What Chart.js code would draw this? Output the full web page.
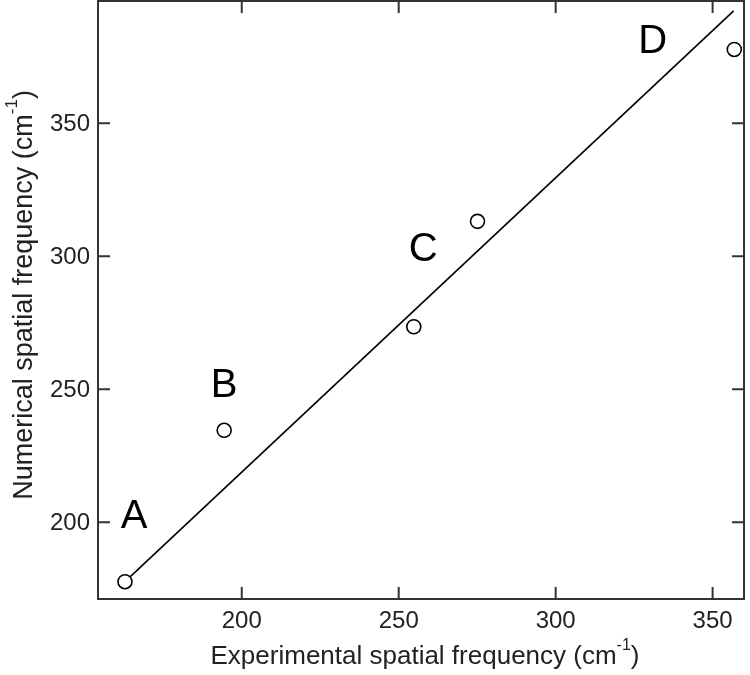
<!DOCTYPE html>
<html lang="en">
<head>
  <meta charset="UTF-8">
  <title>Numerical vs experimental spatial frequency</title>
  <style>
    body{margin:0;padding:0;background:#fff;}
    #wrap{width:750px;height:675px;}
  </style>
  <script src="https://cdn.jsdelivr.net/npm/chart.js"></script>
</head>
<body>
  <div id="wrap"><canvas id="chart" width="750" height="675"></canvas></div>

<script>
/* ===== Data ===== */
const expFreq = [162.8, 194.4, 254.8, 275.1, 356.9];   // experimental (cm^-1)
const numFreq = [177.7, 234.6, 273.5, 313.1, 377.7];   // numerical (cm^-1)
const fitX = [162.8, 356.7];                           // fitted line ends
const fitY = [177.7, 392.2];
const tagText = ["A", "B", "C", "D"];
const tagX = [165.7, 194.4, 257.8, 330.9];
const tagY = [202, 251.1, 302.5, 380.5];
const xTicks = [200, 250, 300, 350];
const yTicks = [200, 250, 300, 350];

const FONT = '"Liberation Sans", Arial, sans-serif';
const INK = '#222';
const AXIS = '#333';

/* ===== Frame, inward ticks, letters, titles ===== */
const decor = {
  id: 'decor',
  afterDatasetsDraw(chart){
    const {ctx, chartArea:a, scales:{x, y}} = chart;
    ctx.save();
    ctx.strokeStyle = AXIS; ctx.lineWidth = 2;
    ctx.strokeRect(a.left, a.top, a.right - a.left, a.bottom - a.top);
    const tl = 12;
    ctx.beginPath();
    xTicks.forEach(v => {
      const px = x.getPixelForValue(v);
      ctx.moveTo(px, a.bottom); ctx.lineTo(px, a.bottom - tl);
      ctx.moveTo(px, a.top); ctx.lineTo(px, a.top + tl);
    });
    yTicks.forEach(v => {
      const py = y.getPixelForValue(v);
      ctx.moveTo(a.left, py); ctx.lineTo(a.left + tl, py);
      ctx.moveTo(a.right, py); ctx.lineTo(a.right - tl, py);
    });
    ctx.stroke();

    // tick labels
    ctx.fillStyle = INK;
    ctx.font = '24px ' + FONT;
    ctx.textAlign = 'center'; ctx.textBaseline = 'middle';
    xTicks.forEach(v => ctx.fillText(String(v), x.getPixelForValue(v), 621));
    ctx.textAlign = 'right';
    yTicks.forEach(v => ctx.fillText(String(v), 90, y.getPixelForValue(v) + 1));

    // point letters
    ctx.fillStyle = '#000';
    ctx.font = '40px ' + FONT;
    ctx.textAlign = 'center';
    tagText.forEach((t, i) => ctx.fillText(t, x.getPixelForValue(tagX[i]), y.getPixelForValue(tagY[i])));

    // axis titles with superscript
    ctx.fillStyle = INK;
    function titled(main, size, cx, cy){
      const sup = Math.round(size * 0.62);
      ctx.font = size + 'px ' + FONT;
      const w1 = ctx.measureText(main).width;
      const w3 = ctx.measureText(')').width;
      ctx.font = sup + 'px ' + FONT;
      const w2 = ctx.measureText('-1').width;
      let sx = cx - (w1 + w2 + w3) / 2;
      ctx.textAlign = 'left'; ctx.textBaseline = 'alphabetic';
      ctx.font = size + 'px ' + FONT;
      ctx.fillText(main, sx, cy);
      ctx.font = sup + 'px ' + FONT;
      ctx.fillText('-1', sx + w1, cy - size * 0.55);
      ctx.font = size + 'px ' + FONT;
      ctx.fillText(')', sx + w1 + w2, cy);
    }
    titled('Experimental spatial frequency (cm', 26, 425, 664);
    ctx.save();
    ctx.translate(32, 295);
    ctx.rotate(-Math.PI / 2);
    titled('Numerical spatial frequency (cm', 27, 0, 0);
    ctx.restore();
    ctx.restore();
  }
};

/* ===== Chart ===== */
new Chart(document.getElementById('chart'), {
  type: 'scatter',
  data: {
    datasets: [
      {
        label: 'fit',
        data: fitX.map((v, i) => ({x: v, y: fitY[i]})),
        showLine: true, borderColor: '#000', borderWidth: 1.6,
        pointRadius: 0, order: 2
      },
      {
        label: 'points',
        data: expFreq.map((v, i) => ({x: v, y: numFreq[i]})),
        pointRadius: 7, pointBorderWidth: 1.6,
        pointBorderColor: '#000', pointBackgroundColor: '#fff',
        order: 1
      }
    ]
  },
  options: {
    responsive: false, animation: false,
    layout: {autoPadding: false, padding: {left: 0, right: 6, top: 1, bottom: 0}},
    plugins: {legend: {display: false}, tooltip: {enabled: false}},
    scales: {
      x: {
        type: 'linear', min: 154.2, max: 360,
        grid: {display: false}, border: {display: false},
        ticks: {display: false},
        afterFit(s){ s.height = 76; }
      },
      y: {
        type: 'linear', min: 171.2, max: 395.9,
        grid: {display: false}, border: {display: false},
        ticks: {display: false},
        afterFit(s){ s.width = 98; }
      }
    }
  },
  plugins: [decor]
});
</script>
</body>
</html>
